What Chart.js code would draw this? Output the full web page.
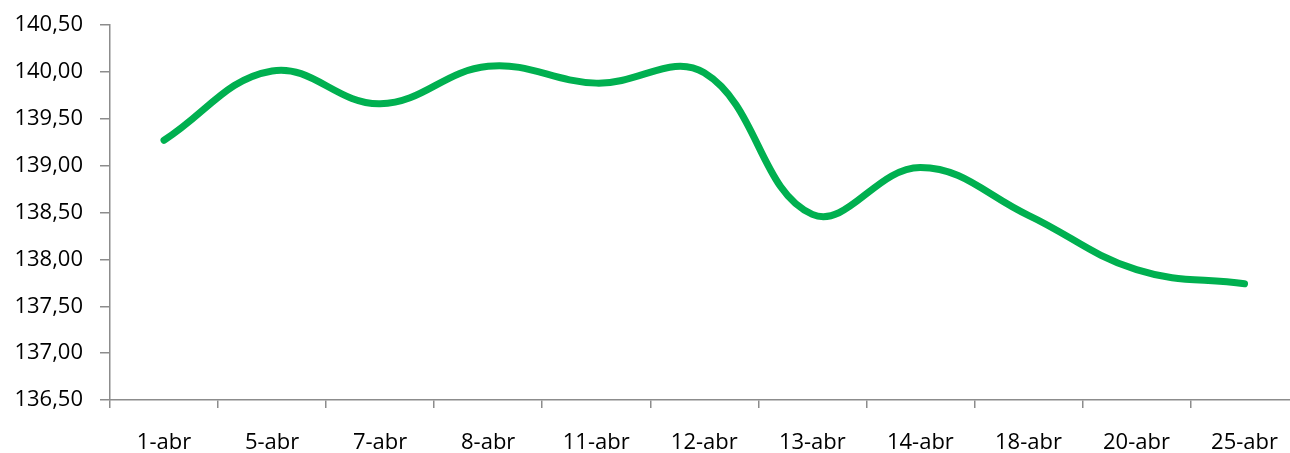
<!DOCTYPE html>
<html lang="es">
<head>
  <meta charset="UTF-8">
  <title>Cotización abril</title>
  <script src="https://cdn.jsdelivr.net/npm/chart.js"></script>
  <style>
    html, body {
      margin: 0;
      padding: 0;
      background: #fff;
      overflow: hidden;
    }
    #chart {
      position: absolute;
      left: 0;
      top: 0;
    }
  </style>
</head>
<body>
<canvas id="chart" width="1300" height="460"></canvas>

<script>
  // días del mes (eje x)
  const dias = ['1-abr', '5-abr', '7-abr', '8-abr', '11-abr', '12-abr', '13-abr', '14-abr', '18-abr', '20-abr', '25-abr'];
  // valores
  const valores = [139.27, 140.01, 139.66, 140.06, 139.88, 139.99, 138.48, 138.98, 138.47, 137.89, 137.74];
  // rango del eje y
  const yMin = 136.5;
  const yMax = 140.5;
  const yPaso = 0.5;

  const fuente = { family: "'Open Sans', 'Liberation Sans', sans-serif", size: 22 };
  const gris = '#8c8c8c';

  const ctx = document.getElementById('chart').getContext('2d');
  new Chart(ctx, {
    type: 'line',
    data: {
      labels: dias,
      datasets: [{
        data: valores,
        borderColor: '#00B050',
        borderWidth: 7,
        borderCapStyle: 'round',
        borderJoinStyle: 'round',
        tension: 0.4,
        pointRadius: 0,
        fill: false
      }]
    },
    options: {
      responsive: false,
      animation: false,
      layout: { padding: { top: 25, right: 0, left: 0, bottom: 0 } },
      plugins: {
        legend: { display: false },
        tooltip: { enabled: false }
      },
      scales: {
        x: {
          offset: true,
          grid: {
            offset: true,
            drawOnChartArea: false,
            drawTicks: true,
            tickLength: 8,
            color: gris,
            lineWidth: 1.5
          },
          border: { color: gris, width: 1.5 },
          ticks: {
            color: '#000',
            font: fuente,
            padding: 22,
            maxRotation: 0
          },
          afterFit: (scale) => { scale.height = 60; }
        },
        y: {
          min: yMin,
          max: yMax,
          grid: {
            drawOnChartArea: false,
            drawTicks: true,
            tickLength: 10,
            color: gris,
            lineWidth: 1.5
          },
          border: { color: gris, width: 1.5 },
          ticks: {
            stepSize: yPaso,
            color: '#000',
            font: fuente,
            padding: 17,
            callback: (v) => v.toFixed(2).replace('.', ',')
          },
          afterFit: (scale) => {
            scale.width = 110;
            scale.paddingTop = 0;
            scale.paddingBottom = 0;
          }
        }
      }
    }
  });
</script>
</body>
</html>
